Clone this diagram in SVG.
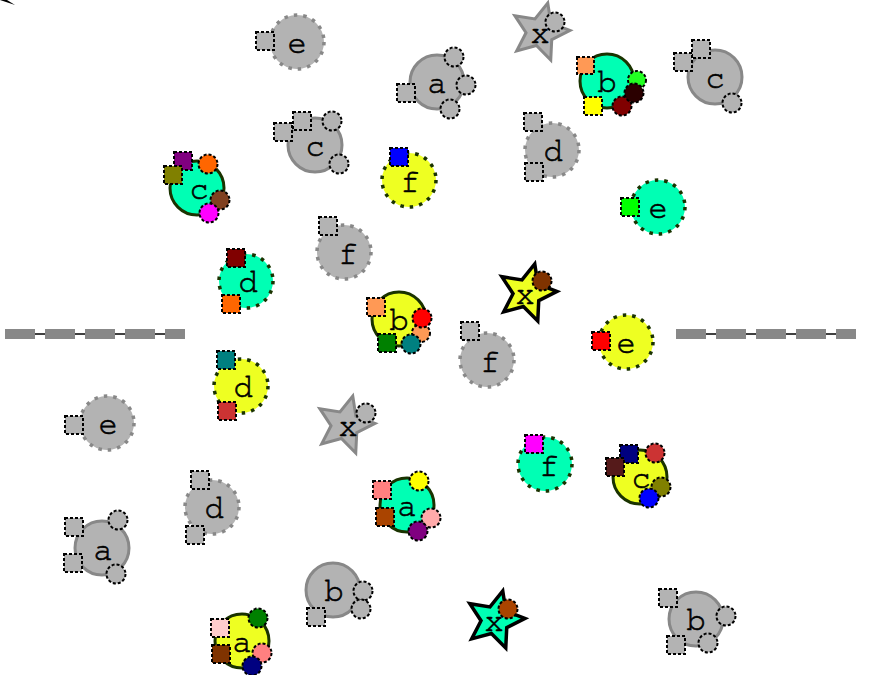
<svg xmlns="http://www.w3.org/2000/svg" xmlns:xlink="http://www.w3.org/1999/xlink" width="870" height="675" viewBox="0 0 870 675">
<style>
.g{fill:#b3b3b3}
.t{fill:#00ffb4}
.y{fill:#eeff22}
.gs{stroke:#888;stroke-width:3}
.gd{stroke:#888;stroke-width:3.5;stroke-dasharray:3.5 6}
.cs{stroke:#1a3300;stroke-width:3}
.cd{stroke:#1a3300;stroke-width:3.5;stroke-dasharray:3.5 6}
.ss{stroke:#000;stroke-width:3.5;stroke-linejoin:miter}
.sg{stroke:#888;stroke-width:3;stroke-linejoin:miter}
.p{stroke:#000;stroke-width:2;stroke-dasharray:3 2}
text{font-family:FreeMono,"Liberation Mono",monospace;font-size:32px;fill:#000;stroke:#000;stroke-width:0.6;text-anchor:middle}
.dash1{stroke:#000;stroke-width:1.5;fill:none}
.dash2{stroke:#888;stroke-width:10;stroke-dasharray:30 10;fill:none}
</style>
<defs>
<path id="star" d="M7.76,-28.98 L10.88,-8.81 L29.96,-1.57 L11.74,7.62 L10.75,28.01 L-3.62,13.52 L-23.31,18.88 L-13.98,0.73 L-25.16,-16.34 L-5.02,-13.07 Z"/>
</defs>
<g id="connectors">
<path d="M0,0 L15,5 L7,0 Z" fill="#000"/>
<path class="dash1" d="M5,334 L185,334"/>
<path class="dash2" d="M5,334 L185,334"/>
<path class="dash1" d="M676,334 L856,334"/>
<path class="dash2" d="M676,334 L856,334"/>
</g>
<g id="n1"><circle class="g gd" cx="297" cy="42" r="27"/><rect class="g p" x="256" y="32" width="18" height="18"/><text x="297" y="53">e</text></g>
<g id="n2"><circle class="g gs" cx="437" cy="82" r="27"/><rect class="g p" x="397" y="84" width="18" height="18"/><circle class="g p" cx="454" cy="57" r="9.5"/><circle class="g p" cx="466" cy="85" r="9.5"/><circle class="g p" cx="450" cy="109" r="9.5"/><text x="437" y="93">a</text></g>
<g id="n3"><use xlink:href="#star" href="#star" class="g sg" transform="translate(540,32)"/><circle class="g p" cx="555" cy="22" r="9.5"/><text x="540" y="43">x</text></g>
<g id="n4"><circle class="t cs" cx="607" cy="81" r="27"/><rect class="p" fill="#ff9955" x="577" y="57" width="17" height="17"/><rect class="p" fill="#ffff00" x="584" y="97" width="18" height="18"/><circle class="p" fill="#22ff22" cx="637" cy="80" r="9"/><circle class="p" fill="#800000" cx="622" cy="106" r="9.5"/><circle class="p" fill="#2b0000" cx="634" cy="93" r="9.5"/><text x="607" y="92">b</text></g>
<g id="n5"><circle class="g gs" cx="715" cy="77" r="27"/><rect class="g p" x="692" y="40" width="18" height="18"/><rect class="g p" x="674" y="53" width="18" height="18"/><circle class="g p" cx="732" cy="103" r="9.5"/><text x="715" y="88">c</text></g>
<g id="n6"><circle class="g gs" cx="315" cy="145" r="27"/><rect class="g p" x="293" y="112" width="18" height="18"/><rect class="g p" x="274" y="123" width="18" height="18"/><circle class="g p" cx="332" cy="121" r="9.5"/><circle class="g p" cx="339" cy="164" r="9.5"/><text x="315" y="156">c</text></g>
<g id="n7"><circle class="y cd" cx="409" cy="180" r="27"/><rect class="p" fill="#0000ff" x="390" y="148" width="18" height="18"/><text x="410" y="192">f</text></g>
<g id="n8"><circle class="g gd" cx="552" cy="150" r="27"/><rect class="g p" x="524" y="113" width="18" height="18"/><rect class="g p" x="525" y="163" width="18" height="18"/><text x="553" y="161">d</text></g>
<g id="n9"><circle class="t cs" cx="197" cy="188" r="27"/><rect class="p" fill="#800080" x="174" y="152" width="18" height="18"/><rect class="p" fill="#808000" x="164" y="166" width="18" height="18"/><circle class="p" fill="#ff6600" cx="208" cy="164" r="9.5"/><circle class="p" fill="#804020" cx="220" cy="200" r="9.5"/><circle class="p" fill="#ff00ff" cx="209" cy="213" r="9.5"/><text x="199" y="199">c</text></g>
<g id="n10"><circle class="t cd" cx="658" cy="207" r="27"/><rect class="p" fill="#00ff00" x="621" y="198" width="18" height="18"/><text x="658" y="218">e</text></g>
<g id="n11"><circle class="g gd" cx="344" cy="252" r="27"/><rect class="g p" x="319" y="217" width="18" height="18"/><text x="348" y="264">f</text></g>
<g id="n12"><circle class="t cd" cx="246" cy="281" r="27"/><rect class="p" fill="#800000" x="227" y="249" width="18" height="18"/><rect class="p" fill="#ff6600" x="222" y="295" width="18" height="18"/><text x="248" y="292">d</text></g>
<g id="n13"><circle class="y cd" cx="241" cy="386" r="27"/><rect class="p" fill="#008080" x="217" y="351" width="18" height="18"/><rect class="p" fill="#cc3333" x="218" y="402" width="18" height="18"/><text x="243" y="397">d</text></g>
<g id="n15"><circle class="y cs" cx="399" cy="319" r="27"/><rect class="p" fill="#ff9955" x="367" y="298" width="18" height="18"/><rect class="p" fill="#008000" x="378" y="334" width="18" height="18"/><circle class="p" fill="#ff9955" cx="421" cy="333" r="9"/><circle class="p" fill="#ff0000" cx="422" cy="318" r="9.5"/><circle class="p" fill="#008080" cx="411" cy="344" r="9.5"/><text x="399" y="330">b</text></g>
<g id="n16"><use xlink:href="#star" href="#star" class="y ss" transform="translate(527,293)"/><circle class="p" fill="#803300" cx="542" cy="281" r="9.5"/><text x="525" y="304">x</text></g>
<g id="n17"><circle class="g gd" cx="487" cy="360" r="27"/><rect class="g p" x="461" y="322" width="18" height="18"/><text x="490" y="372">f</text></g>
<g id="n18"><circle class="y cd" cx="626" cy="342" r="27"/><rect class="p" fill="#ff0000" x="592" y="332" width="18" height="18"/><text x="626" y="353">e</text></g>
<g id="n19"><use xlink:href="#star" href="#star" class="g sg" transform="translate(345,425)"/><circle class="g p" cx="366" cy="413" r="9.5"/><text x="348" y="436">x</text></g>
<g id="n20"><circle class="g gd" cx="107" cy="423" r="27"/><rect class="g p" x="65" y="416" width="18" height="18"/><text x="108" y="434">e</text></g>
<g id="n21"><circle class="t cd" cx="545" cy="464" r="27"/><rect class="p" fill="#ff00ff" x="525" y="435" width="18" height="18"/><text x="549" y="476">f</text></g>
<g id="n22"><circle class="y cs" cx="640" cy="477" r="27"/><rect class="p" fill="#000080" x="620" y="445" width="18" height="18"/><rect class="p" fill="#551a1a" x="606" y="458" width="18" height="18"/><circle class="p" fill="#cc3333" cx="655" cy="453" r="9.5"/><circle class="p" fill="#808000" cx="661" cy="487" r="9.5"/><circle class="p" fill="#0000ff" cx="649" cy="498" r="9.5"/><text x="641" y="488">c</text></g>
<g id="n23"><circle class="g gd" cx="212" cy="507" r="27"/><rect class="g p" x="191" y="471" width="18" height="18"/><rect class="g p" x="186" y="526" width="18" height="18"/><text x="214" y="518">d</text></g>
<g id="n24"><circle class="t cs" cx="407" cy="505" r="27"/><rect class="p" fill="#ff8080" x="373" y="481" width="18" height="18"/><rect class="p" fill="#aa4400" x="376" y="508" width="18" height="18"/><circle class="p" fill="#ffff00" cx="419" cy="481" r="9.5"/><circle class="p" fill="#ffaaaa" cx="431" cy="518" r="9.5"/><circle class="p" fill="#800080" cx="418" cy="531" r="9.5"/><text x="407" y="516">a</text></g>
<g id="n25"><circle class="g gs" cx="102" cy="548" r="27"/><rect class="g p" x="65" y="518" width="18" height="18"/><rect class="g p" x="64" y="554" width="18" height="18"/><circle class="g p" cx="118" cy="520" r="9.5"/><circle class="g p" cx="116" cy="574" r="9.5"/><text x="103" y="560">a</text></g>
<g id="n26"><circle class="g gs" cx="333" cy="590" r="27"/><rect class="g p" x="307" y="608" width="18" height="18"/><circle class="g p" cx="363" cy="591" r="9.5"/><circle class="g p" cx="361" cy="609" r="9.5"/><text x="334" y="601">b</text></g>
<g id="n27"><use xlink:href="#star" href="#star" class="t ss" transform="translate(495,620)"/><circle class="p" fill="#aa4400" cx="508" cy="609" r="9.5"/><text x="494" y="631">x</text></g>
<g id="n28"><circle class="y cs" cx="242" cy="641" r="27"/><rect class="p" fill="#ffcccc" x="211" y="619" width="18" height="18"/><rect class="p" fill="#803300" x="212" y="645" width="18" height="18"/><circle class="p" fill="#008000" cx="258" cy="618" r="9.5"/><circle class="p" fill="#ff8080" cx="262" cy="653" r="9.5"/><circle class="p" fill="#000080" cx="252" cy="666" r="9.5"/><text x="242" y="652">a</text></g>
<g id="n29"><circle class="g gs" cx="696" cy="619" r="27"/><rect class="g p" x="659" y="589" width="18" height="18"/><rect class="g p" x="667" y="636" width="18" height="18"/><circle class="g p" cx="726" cy="616" r="9.5"/><circle class="g p" cx="708" cy="643" r="9.5"/><text x="696" y="630">b</text></g>
</svg>
